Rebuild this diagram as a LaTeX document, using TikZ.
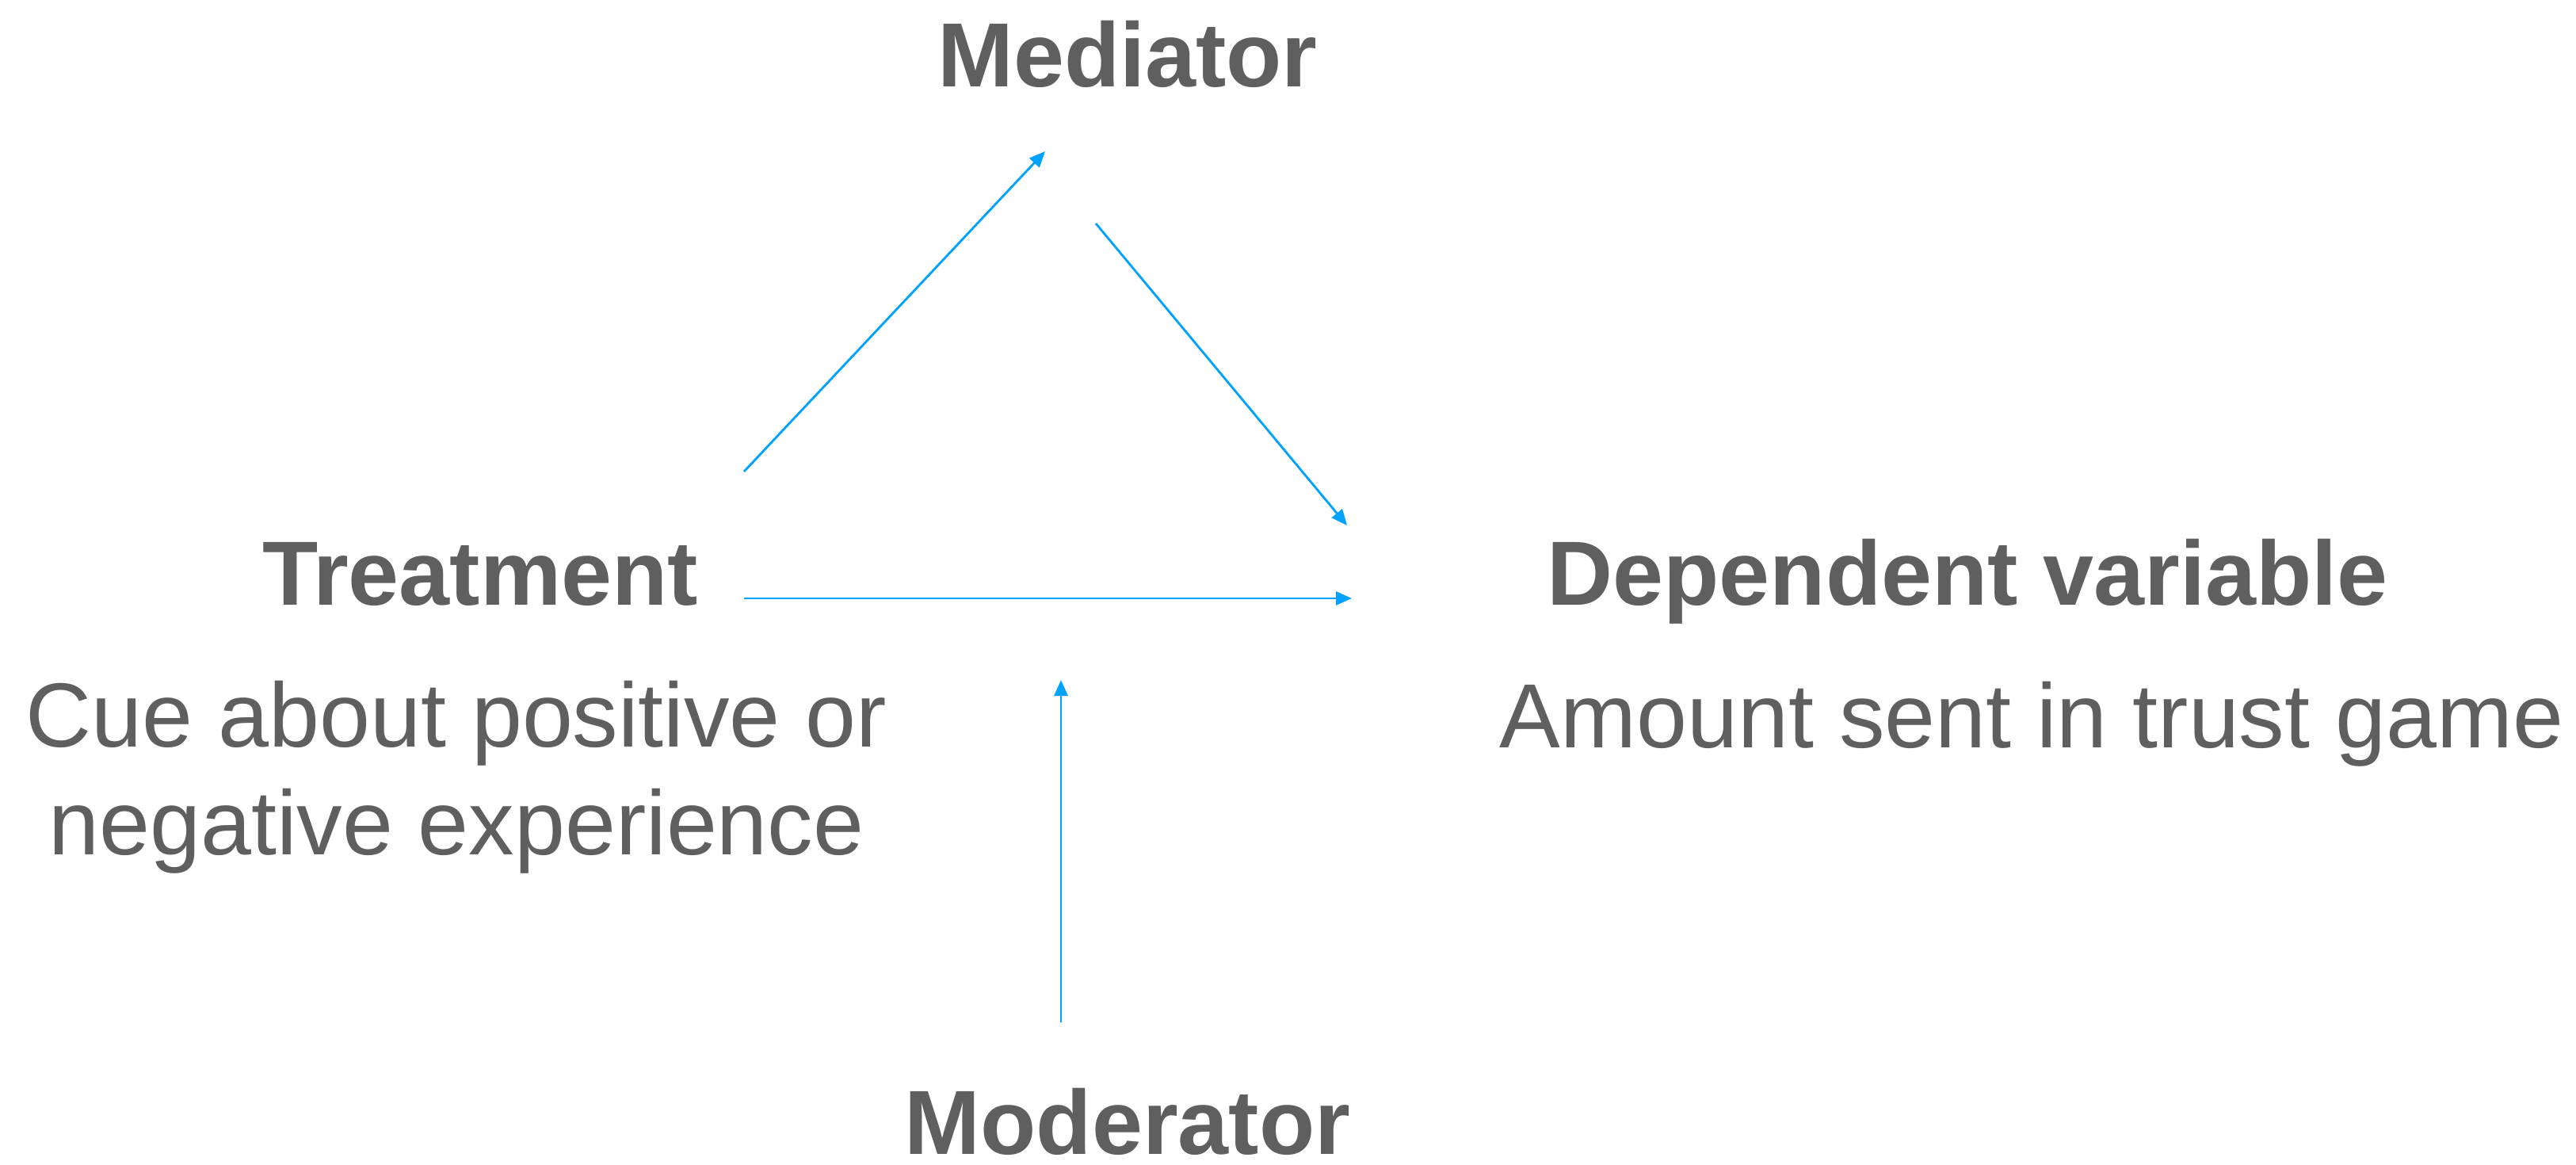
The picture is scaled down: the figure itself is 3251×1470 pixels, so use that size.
\documentclass[tikz,border=0pt]{standalone}
\usepackage{fontspec}
\setmainfont{Liberation Sans}
\usetikzlibrary{arrows.meta}
\definecolor{txtgray}{HTML}{5F5F5F}
\definecolor{linkblue}{HTML}{00A2FF}

\begin{document}
\begin{tikzpicture}
  [x=0.01cm, y=-0.01cm,
   every node/.style={text=txtgray, inner sep=0pt, anchor=base},
   varname/.style={font=\fontsize{32.7}{38.4}\selectfont\bfseries},
   vardesc/.style={font=\fontsize{32.7}{38.4}\selectfont, align=center},
   link/.style={draw=linkblue, line width=0.8pt, -{Triangle[length=0.2cm, width=0.17cm]}}]
  \useasboundingbox (0,0) rectangle (3251,1470);

  \node [varname] (med) at (1423,110) {Mediator};
  \node [varname] (treat) at (606,763) {Treatment};
  \node [varname] (dep) at (2483,763) {Dependent variable};
  \node [varname] (mod) at (1423,1456) {Moderator};
  \node [vardesc] (cue) at (576,1078) {Cue about positive or\\negative experience};
  \node [vardesc] (amount) at (2564,943) {Amount sent in trust game};

  \coordinate (treat-up) at (939,595);
  \coordinate (med-in) at (1319,191);
  \coordinate (med-out) at (1383,282);
  \coordinate (dep-top) at (1700,663);
  \coordinate (treat-right) at (939,755);
  \coordinate (dep-left) at (1706,755);
  \coordinate (mod-up) at (1339,1290);
  \coordinate (mod-in) at (1339,858);

  \draw [link] (treat-up) -- (med-in);
  \draw [link] (med-out) -- (dep-top);
  \draw [link] (treat-right) -- (dep-left);
  \draw [link] (mod-up) -- (mod-in);
\end{tikzpicture}
\end{document}
